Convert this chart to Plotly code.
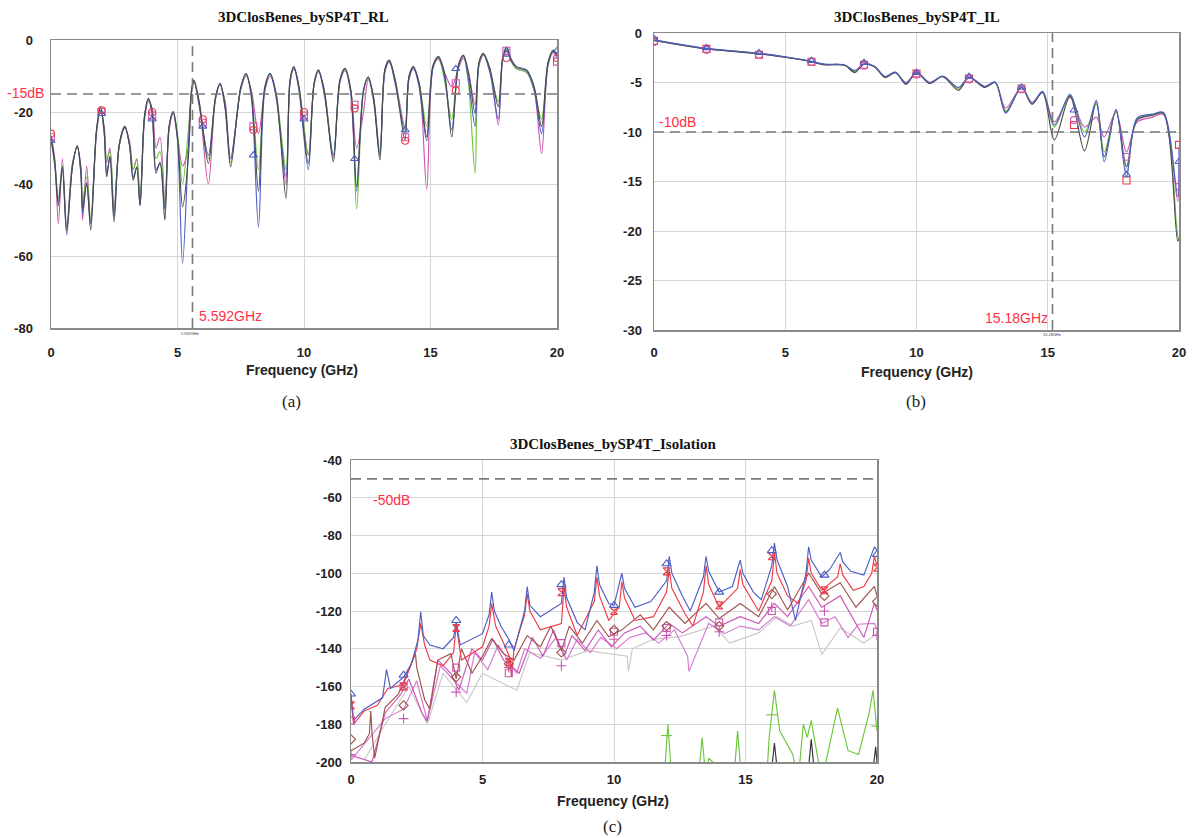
import plotly.graph_objects as go

W, H = 1192, 838

# ---------------- (a) Return loss data ----------------
rl_freq = [
    0.0, 0.15, 0.29, 0.45, 0.62, 0.85, 1.04, 1.18, 1.25, 1.41,
    1.57, 1.8, 1.96, 2.1, 2.2, 2.33, 2.49, 2.7, 2.92, 3.1,
    3.25, 3.39, 3.52, 3.7, 3.85, 4.0, 4.15, 4.31, 4.5, 4.67,
    4.83, 5.0, 5.2, 5.43, 5.55, 5.65, 5.85, 6.22, 6.5, 6.68,
    6.88, 7.1, 7.5, 7.71, 7.92, 8.2, 8.45, 8.66, 8.9, 9.29,
    9.45, 9.6, 9.8, 10.17, 10.4, 10.57, 10.8, 11.16, 11.42, 11.62,
    11.85, 12.08, 12.35, 12.54, 12.75, 13.0, 13.2, 13.37, 13.6, 13.99,
    14.15, 14.32, 14.55, 14.85, 15.1, 15.31, 15.55, 15.84, 16.1, 16.3,
    16.5, 16.76, 16.92, 17.09, 17.35, 17.68, 17.85, 18.01, 18.2, 18.4,
    18.8, 19.1, 19.39, 19.65, 19.86, 20.0]
rl_dark = [
    -26.9, -34, -46, -35.2, -53, -35, -29.4, -36, -47, -39.7,
    -52.8, -25, -18.5, -25, -38, -32.4, -50.5, -29, -24, -29,
    -38.9, -35.2, -45.8, -21, -16.2, -20, -36.1, -34.3, -50, -24,
    -19.9, -27, -46.3, -32.4, -14, -11.1, -17, -34.3, -16, -12,
    -18, -35.2, -13, -9.3, -15, -42, -13, -9.3, -15, -44,
    -11, -7.4, -13, -34.3, -12, -8.3, -14, -33.8, -11, -7.9,
    -14, -40.7, -14, -10.2, -16, -33.3, -8, -5.6, -11, -27.8,
    -10, -7.4, -12, -26.9, -7, -4.6, -9, -26.9, -7, -4.2,
    -9, -20.4, -6, -3.7, -8, -18.5, -5, -1.9, -5.5, -7.4,
    -8.3, -13, -24, -6, -2.8, -4.2]
rl_blue = [
    -27.5, -35, -45, -35.5, -54, -35, -29.6, -37, -48, -40,
    -51, -25, -18.8, -25, -37, -32.5, -49, -29, -24.2, -29,
    -38, -35.5, -46, -21, -16.5, -20.5, -37, -34, -47, -24,
    -20, -28, -62, -30, -14.5, -11.3, -18, -32, -16, -12.2,
    -19, -33, -13.5, -9.5, -16, -52, -14, -9.5, -16, -38,
    -11.5, -7.6, -14, -36, -12, -8.5, -15, -32, -11.5, -8,
    -15, -42, -14, -10.5, -17, -32, -8.5, -5.8, -12, -25,
    -10.5, -7.6, -13, -28, -7.5, -4.8, -10, -25, -7.5, -4.4,
    -11, -24, -6.5, -3.9, -9, -22, -5.5, -2.2, -6, -7.6,
    -8.6, -14, -26, -6.5, -3, -4.5]
rl_green = [
    -27, -34, -44, -35, -52, -35, -29.4, -37, -45, -38,
    -50, -25, -19, -26, -33, -31, -48, -29, -24, -29,
    -36, -33, -44, -21, -16.5, -21, -33, -31, -46, -24,
    -20, -26, -40, -25, -15, -11.5, -17, -33, -16.5, -12.3,
    -18, -34, -13.5, -9.6, -15, -36, -13.5, -9.5, -15, -36,
    -11.3, -7.7, -13, -32, -12.3, -8.6, -14, -32, -11.4, -8.2,
    -14, -47, -14.5, -10.5, -16, -32, -8.3, -5.9, -11, -26,
    -10.3, -7.7, -12, -24, -7.3, -5, -11, -22, -7.3, -4.5,
    -12, -37, -6.5, -4, -9, -17, -5.5, -2.5, -6, -8,
    -9, -14, -22, -6.3, -3.2, -4.5]
rl_magenta = [
    -26.5, -33, -51, -33, -52, -34, -30, -35, -50, -35,
    -51, -26, -19.5, -24, -34, -30, -47, -29.5, -24.5, -28,
    -36, -33, -46, -22, -17, -19, -30, -27, -45, -25,
    -20.5, -27, -35, -30, -15, -11.8, -17, -40, -16.5, -12.5,
    -17, -33, -13.8, -10, -14, -26, -14, -10, -15, -40,
    -11.8, -8, -13, -32, -12.5, -8.8, -14, -33, -11.8, -8.5,
    -14, -30, -20, -11, -16, -31, -8.8, -6.2, -11, -24,
    -11, -8, -12, -41.5, -7.8, -5.3, -9, -13, -8, -5,
    -9, -18, -7, -4.2, -8, -23.6, -5.8, -2.8, -6, -8,
    -9, -14, -31.5, -7, -3.5, -5]
rl_mark_freq = [0, 2, 4, 6, 8, 10, 12, 14, 16, 18, 20]
rl_mark_sq = [-27, -20, -21, -23, -24, -21, -18, -27, -12, -3, -6]
rl_mark_tri = [-28, -20.5, -22, -24, -32, -22, -33, -25, -8, -4, -3]
rl_mark_circ = [-26, -19.5, -20, -22, -25, -20, -19, -28, -14, -5, -5]
rl_limit = -15
rl_marker_freq = 5.592
rl_yticks = [0, -20, -40, -60, -80]
rl_yticktext = ["0", "-20", "-40", "-60", "-80"]

# ---------------- (b) Insertion loss data ----------------
il_freq = [
    0, 1, 2, 3, 4, 5, 5.6, 6.0, 6.5, 7.0,
    7.3, 7.65, 8.0, 8.4, 8.8, 9.2, 9.6, 10.0, 10.5, 11.0,
    11.6, 12.0, 12.6, 13.0, 13.4, 14.0, 14.4, 14.8, 15.25, 15.85,
    16.4, 16.85, 17.15, 17.6, 18.0, 18.4, 19.0, 19.4, 19.95, 20.0]
il_dark = [
    -0.75, -1.2, -1.6, -1.85, -2.1, -2.45, -2.7, -2.9, -3.2, -3.2,
    -3.3, -4.0, -3.15, -3.4, -4.5, -4.0, -5.1, -4.0, -5.1, -4.4,
    -5.8, -4.5, -5.5, -5.0, -8.0, -5.5, -7.2, -6.0, -10.8, -6.4,
    -11.9, -7.0, -12.5, -7.8, -13.5, -8.8, -8.3, -8.1, -21.0, -20.8]
il_blue = [
    -0.7, -1.15, -1.55, -1.8, -2.05, -2.4, -2.65, -2.85, -3.15, -3.15,
    -3.25, -3.8, -3.1, -3.35, -4.4, -3.95, -5.2, -3.95, -5.0, -4.35,
    -5.5, -4.45, -5.4, -4.95, -8.1, -5.45, -7.1, -5.9, -9.3, -6.2,
    -10.5, -6.8, -13.0, -7.7, -14.5, -8.6, -8.2, -8.0, -16.5, -11.5]
il_green = [
    -0.72, -1.18, -1.58, -1.82, -2.08, -2.42, -2.68, -2.88, -3.18, -3.18,
    -3.28, -3.9, -3.12, -3.38, -4.45, -3.98, -5.15, -3.98, -5.05, -4.38,
    -5.6, -4.48, -5.45, -4.98, -7.9, -5.48, -7.15, -5.95, -9.5, -6.3,
    -10.0, -7.2, -12.0, -7.9, -14.0, -8.7, -8.3, -8.1, -20.5, -20.8]
il_magenta = [
    -0.74, -1.2, -1.6, -1.84, -2.1, -2.44, -2.7, -2.9, -3.2, -3.2,
    -3.3, -3.85, -3.15, -3.4, -4.4, -4.0, -5.0, -4.0, -5.0, -4.4,
    -5.6, -4.5, -5.4, -5.0, -7.6, -5.5, -7.0, -6.0, -9.0, -6.5,
    -9.5, -8.5, -10.5, -8.0, -12.0, -9.0, -8.5, -8.2, -17.0, -13.0]
il_mark_freq = [0, 2, 4, 6, 8, 10, 12, 14, 16, 18, 20]
il_mark_sq = [-0.8, -1.6, -2.2, -2.9, -3.2, -4.1, -4.6, -5.6, -9.3, -14.9, -11.3]
il_mark_tri = [-0.6, -1.5, -2.0, -2.8, -3.0, -4.0, -4.4, -5.5, -7.8, -14.3, -13.0]
il_mark_circ = [-0.9, -1.7, -2.2, -2.9, -3.3, -4.2, -4.7, -5.7, -8.8, -12.5, -15.5]
il_limit = -10
il_marker_freq = 15.18
il_yticks = [0, -5, -10, -15, -20, -25, -30]
il_yticktext = ["0", "-5", "-10", "-15", "-20", "-25", "-30"]

# ---------------- (c) Isolation data ----------------
iso_blue_f = [0, 0.1, 0.5, 1.2, 1.35, 1.5, 2.0, 2.3, 2.55, 2.65,
              2.75, 3.0, 3.5, 3.9, 4.0, 4.15, 5.0, 5.25, 5.35, 5.45,
              5.7, 6.0, 6.2, 6.6, 6.7, 6.8, 7.2, 8.0, 8.1, 8.2,
              8.6, 8.9, 9.25, 9.35, 9.45, 9.8, 10.0, 10.3, 10.4, 10.8,
              11.4, 12.0, 12.1, 12.2, 12.6, 12.9, 13.4, 13.5, 13.6, 14.0,
              14.5, 14.8, 14.9, 15.3, 15.6, 16.0, 16.1, 16.2, 16.6, 16.9,
              17.3, 17.4, 17.5, 17.9, 18.2, 18.6, 18.7, 19.0, 19.5, 19.9, 20.0]
iso_blue = [-163.8, -178, -172, -166, -151, -161, -155, -148, -135, -120.4,
            -133, -138, -140, -134, -125.7, -138, -132, -122, -110, -120,
            -128, -135, -141, -120, -107, -117, -123, -116, -102, -113,
            -126, -130, -110, -96, -106, -116, -117, -100, -108, -118,
            -115, -104, -91, -100, -112, -120, -102, -91, -99, -110,
            -107, -93, -100, -110, -114, -96, -84, -93, -107, -125,
            -100, -86, -93, -102, -98, -89, -94, -99, -101, -86, -88]
iso_red_f = [0, 0.1, 0.5, 1.0, 1.4, 2.0, 2.5, 2.65, 2.8, 3.0,
             3.5, 3.9, 4.0, 4.2, 5.0, 5.25, 5.35, 5.5, 5.8, 6.05,
             6.1, 6.2, 6.6, 6.7, 6.8, 7.2, 8.0, 8.1, 8.2, 8.6,
             9.25, 9.35, 9.45, 9.8, 10.2, 10.3, 10.4, 10.8, 11.5, 12.0,
             12.1, 12.2, 12.7, 13.0, 13.4, 13.5, 13.6, 14.0, 14.7, 14.8,
             14.9, 15.5, 16.0, 16.1, 16.2, 16.6, 17.0, 17.3, 17.4, 17.5,
             17.9, 18.5, 18.6, 18.7, 19.1, 19.5, 19.8, 19.9, 20.0]
iso_red = [-167, -180, -173, -170, -161, -159, -140, -126.6, -138, -146,
           -149, -142, -127.5, -146, -139, -128, -116, -128, -137, -145,
           -155, -140, -122, -110.8, -120, -130, -126.6, -107, -118, -133,
           -115, -102, -112, -125, -118, -104.5, -113, -125, -123, -110,
           -98, -108, -121.5, -128, -110, -96, -106, -118, -108, -98,
           -106, -120, -104, -89, -100, -112, -116, -104, -92, -100,
           -109, -102, -95, -101, -109, -107, -100, -91, -96]
iso_brown_f = [0, 0.5, 0.7, 0.75, 0.8, 0.9, 1.3, 1.8, 2.2, 2.45,
               2.5, 2.8, 3.0, 3.3, 3.8, 4.0, 4.2, 4.6, 5.0, 5.35,
               5.8, 6.2, 6.7, 7.2, 7.6, 8.0, 8.3, 8.8, 9.35, 9.8,
               10.3, 11.0, 11.5, 12.1, 12.7, 13.5, 14.0, 14.8, 15.5, 16.1,
               16.6, 17.4, 17.9, 18.6, 19.2, 19.9, 20.0]
iso_brown = [-194, -190, -185, -173, -185, -198, -171, -164, -151, -142.6,
             -150, -167, -172, -146, -142.6, -156, -140, -153, -144, -134.6,
             -142.6, -146, -133, -139, -128, -141, -128, -137, -125, -133.7,
             -130, -122, -130, -118, -126.6, -116, -124, -116, -123, -107,
             -119.5, -100, -110.8, -105, -118, -107, -112]
iso_mag1_f = [0, 0.8, 1.3, 1.9, 2.2, 2.7, 2.9, 3.3, 3.8, 4.1,
              4.6, 5.0, 5.4, 5.8, 6.4, 6.9, 7.3, 7.7, 8.1, 8.4,
              8.9, 9.4, 9.9, 10.4, 11.0, 11.5, 12.1, 12.6, 13.5, 14.0,
              14.8, 15.5, 16.1, 16.6, 17.4, 17.9, 18.6, 19.2, 19.5, 19.9, 20.0]
iso_mag1 = [-196.5, -200, -174, -164, -156, -174, -178.5, -146, -153, -162,
            -140, -146, -135, -146, -153, -134, -144, -130, -144, -133,
            -141, -130, -139, -131.6, -128, -135.5, -126.6, -131.6, -123, -128,
            -123, -126.6, -116, -123, -107, -118, -112, -126.6, -134, -116, -119.5]
iso_mag2_f = [0, 1.3, 2.0, 2.5, 2.9, 3.4, 4.0, 4.4, 4.7, 5.2,
              5.6, 6.3, 6.6, 7.2, 7.8, 8.2, 8.6, 9.1, 9.5, 10.1,
              10.6, 11.2, 11.7, 12.3, 12.8, 12.85, 13.6, 14.2, 14.8, 15.5,
              16.1, 16.7, 17.4, 17.9, 18.4, 18.9, 19.3, 19.9, 20.0]
iso_mag2 = [-199, -177, -172, -157, -178, -149, -158, -163.6, -142, -151,
            -138, -153, -140, -145, -134, -146, -135, -142, -134, -140,
            -134, -131.6, -137, -130, -144, -152, -126.6, -132, -128, -130,
            -123, -128, -114, -126.6, -123, -134, -127, -126.6, -130]
iso_gray_f = [0.5, 1.3, 2.2, 2.9, 3.5, 4.4, 5.0, 6.3, 6.8, 8.0,
              9.0, 10.5, 10.55, 10.7, 11.5, 12.5, 13.8, 14.4, 15.5, 16.2,
              16.8, 17.5, 17.9, 18.6, 19.5, 20.0]
iso_gray = [-199, -180, -160, -180, -153, -168.5, -153, -162, -142, -146,
            -141, -144, -152, -140, -135, -133.6, -128, -137, -131.6, -123,
            -128, -125, -143, -129, -137, -132]
iso_green_f = [11.9, 12.05, 12.2, 13.2, 13.35, 13.5, 13.6, 14.55, 14.7, 14.85,
               15.8, 15.9, 16.1, 16.3, 16.8, 17.0, 17.2, 17.35, 17.5, 17.9,
               18.5, 18.9, 19.3, 19.7, 19.85, 20.0]
iso_green = [-210, -180, -210, -210, -187, -210, -198, -210, -183.5, -210,
             -210, -187, -162, -183.5, -196, -210, -180, -187, -178, -210,
             -171.5, -194, -196, -174, -162, -183.5]
iso_black_f = [15.95, 16.1, 16.25, None, 17.35, 17.5, 17.65, None, 19.8, 19.95, 20.0]
iso_black = [-210, -190, -210, None, -210, -188, -210, None, -210, -192, -200]
iso_mark_f = [0, 2, 4, 6, 8, 10, 12, 14, 16, 18, 20]
iso_mark_tri = [-164, -154, -125, -138, -106, -117, -95, -110, -88, -101, -90]
iso_mark_hg = [-170, -160, -129, -147, -110, -120, -99, -117, -91, -109, -97]
iso_mark_dia = [-188, -170, -155, -148, -142, -130, -128, -128, -111, -112, -115]
iso_mark_sq = [-178, -160, -150, -153, -137, -131, -129, -126, -120, -126, -131]
iso_mark_plus = [-196, -177, -163, -150, -149, -135, -133, -131, -118, -120, -133]
iso_green_mark_f = [12, 16, 20]
iso_green_mark = [-186, -175, -181]
iso_limit = -50
iso_yticks = [-40, -60, -80, -100, -120, -140, -160, -180, -200]
iso_yticktext = ["-40", "-60", "-80", "-100", "-120", "-140", "-160", "-180", "-200"]

freq_ticks = [0, 5, 10, 15, 20]

# ---------------- styling ----------------
C_DARK = "#4a4a4a"
C_BLUE = "#4c5fc4"
C_GREEN = "#6cc63a"
C_MAG = "#cc55b4"
C_RED = "#ee3a48"
C_BROWN = "#a0524c"
C_MAG2 = "#d37ad0"
C_GRAY = "#c9c9c9"
LABEL_RED = "#ff3048"

fig = go.Figure()


def line(x, y, color, xa, ya, width=1.15, shape="spline"):
    fig.add_trace(go.Scatter(x=x, y=y, mode="lines", xaxis=xa, yaxis=ya,
                             line=dict(color=color, width=width, shape=shape,
                                       smoothing=0.9 if shape == "spline" else None),
                             showlegend=False, hoverinfo="skip", connectgaps=False))


def marks(x, y, color, symbol, xa, ya, size=7):
    fig.add_trace(go.Scatter(x=x, y=y, mode="markers", xaxis=xa, yaxis=ya,
                             marker=dict(symbol=symbol, size=size, color=color,
                                         line=dict(color=color, width=1.1)),
                             showlegend=False, hoverinfo="skip"))


# (a)
line(rl_freq, rl_magenta, C_MAG, "x", "y")
line(rl_freq, rl_green, C_GREEN, "x", "y")
line(rl_freq, rl_blue, C_BLUE, "x", "y")
line(rl_freq, rl_dark, C_DARK, "x", "y")
marks(rl_mark_freq, rl_mark_sq, C_MAG, "square-open", "x", "y")
marks(rl_mark_freq, rl_mark_circ, C_RED, "circle-open", "x", "y")
marks(rl_mark_freq, rl_mark_tri, C_BLUE, "triangle-up-open", "x", "y")

# (b)
line(il_freq, il_magenta, C_MAG, "x2", "y2")
line(il_freq, il_green, C_GREEN, "x2", "y2")
line(il_freq, il_dark, C_DARK, "x2", "y2")
line(il_freq, il_blue, C_BLUE, "x2", "y2")
marks(il_mark_freq, il_mark_sq, C_RED, "square-open", "x2", "y2")
marks(il_mark_freq, il_mark_circ, C_MAG, "circle-open", "x2", "y2")
marks(il_mark_freq, il_mark_tri, C_BLUE, "triangle-up-open", "x2", "y2")

# (c)
line(iso_green_f, iso_green, C_GREEN, "x3", "y3", shape="linear")
line(iso_black_f, iso_black, "#333333", "x3", "y3", shape="linear")
line(iso_gray_f, iso_gray, C_GRAY, "x3", "y3", shape="linear")
line(iso_mag2_f, iso_mag2, C_MAG2, "x3", "y3", shape="linear")
line(iso_mag1_f, iso_mag1, C_MAG, "x3", "y3", shape="linear")
line(iso_brown_f, iso_brown, C_BROWN, "x3", "y3", shape="linear")
line(iso_red_f, iso_red, C_RED, "x3", "y3", shape="linear")
line(iso_blue_f, iso_blue, C_BLUE, "x3", "y3", shape="linear")
marks(iso_mark_f, iso_mark_plus, C_MAG, "cross-thin-open", "x3", "y3")
marks(iso_mark_f, iso_mark_sq, C_MAG, "square-open", "x3", "y3")
marks(iso_mark_f, iso_mark_dia, C_BROWN, "diamond-open", "x3", "y3")
marks(iso_mark_f, iso_mark_hg, C_RED, "hourglass-open", "x3", "y3")
marks(iso_mark_f, iso_mark_tri, C_BLUE, "triangle-up-open", "x3", "y3", size=8)
marks(iso_green_mark_f, iso_green_mark, C_GREEN, "line-ew-open", "x3", "y3", size=8)


def px(x):
    return x / W


def py(y):
    return 1 - y / H


tickfont = dict(family="Liberation Sans, Arial, sans-serif", size=13, color="#222222", weight="bold")
common = dict(showline=True, linecolor="#8a8a8a", linewidth=1.5, mirror=True,
              showgrid=True, gridcolor="#d6d6d6", gridwidth=1, zeroline=False,
              ticks="", tickfont=tickfont, fixedrange=True, automargin=False)

fig.update_layout(
    width=W, height=H, margin=dict(l=0, r=0, t=0, b=0, pad=0),
    paper_bgcolor="white", plot_bgcolor="white", showlegend=False,
    xaxis=dict(common, domain=[px(51), px(557)], range=[0, 20], tickvals=freq_ticks,
               anchor="y", ticklabelstandoff=12),
    yaxis=dict(common, domain=[py(328), py(40)], range=[-80, 0], tickvals=rl_yticks,
               ticktext=rl_yticktext, anchor="x", ticklabelstandoff=14),
    xaxis2=dict(common, domain=[px(654), px(1179)], range=[0, 20], tickvals=freq_ticks,
                anchor="y2", ticklabelstandoff=10),
    yaxis2=dict(common, domain=[py(330), py(33)], range=[-30, 0],
                tickvals=il_yticks, ticktext=il_yticktext, anchor="x2", ticklabelstandoff=8),
    xaxis3=dict(common, domain=[px(351), px(877)], range=[0, 20], tickvals=freq_ticks,
                anchor="y3", ticklabelstandoff=5),
    yaxis3=dict(common, domain=[py(762), py(460)], range=[-200, -40],
                tickvals=iso_yticks, ticktext=iso_yticktext, anchor="x3",
                ticklabelstandoff=5),
)

dash = dict(color="#7a7a7a", width=1.6, dash="10px,6px")
# horizontal limit lines
fig.add_shape(type="line", xref="x", yref="y", x0=0, x1=20, y0=rl_limit, y1=rl_limit, line=dash)
fig.add_shape(type="line", xref="x2", yref="y2", x0=0, x1=20, y0=il_limit, y1=il_limit, line=dash)
fig.add_shape(type="line", xref="x3", yref="y3", x0=0, x1=20, y0=iso_limit, y1=iso_limit, line=dash)
# vertical frequency markers
fig.add_shape(type="line", xref="x", yref="y", x0=rl_marker_freq, x1=rl_marker_freq,
              y0=-80, y1=0, line=dash)
fig.add_shape(type="line", xref="x2", yref="y2", x0=il_marker_freq, x1=il_marker_freq,
              y0=-30, y1=0, line=dash)

sans = "Liberation Sans, Arial, sans-serif"
serif = "Liberation Serif, Times New Roman, serif"


def ann(text, x, y, size=12, color="#222222", family=sans, xanchor="center", weight="normal"):
    fig.add_annotation(text=text, x=px(x), y=py(y), xref="paper", yref="paper",
                       xanchor=xanchor, yanchor="middle", showarrow=False,
                       font=dict(family=family, size=size, color=color, weight=weight))


# titles
ann("3DClosBenes_bySP4T_RL", 303, 17, size=15, family=serif, weight="bold", color="#111111")
ann("3DClosBenes_bySP4T_IL", 917, 17, size=15, family=serif, weight="bold", color="#111111")
ann("3DClosBenes_bySP4T_Isolation", 613, 444, size=15, family=serif, weight="bold", color="#111111")

# axis titles
ann("Frequency (GHz)", 302, 370, size=14, weight="bold")
ann("Frequency (GHz)", 917, 372, size=14, weight="bold")
ann("Frequency (GHz)", 613, 801, size=14, weight="bold")

# captions
ann("(a)", 291, 401, size=17, family=serif)
ann("(b)", 916, 401, size=17, family=serif)
ann("(c)", 612, 826, size=17, family=serif)

# limit / marker labels
ann("-15dB", 5, 93, size=14, color=LABEL_RED, xanchor="left")
ann("5.592GHz", 197, 316, size=14, color=LABEL_RED, xanchor="left")
ann("5.592GHz", 190, 334, size=4, color="#333333")
ann("-10dB", 657, 122, size=14, color=LABEL_RED, xanchor="left")
ann("15.18GHz", 1050, 318, size=14, color=LABEL_RED, xanchor="right")
ann("15.18GHz", 1052, 335, size=4, color="#333333")
ann("-50dB", 371, 500, size=14, color=LABEL_RED, xanchor="left")

fig.write_html("out.html", config={"displayModeBar": False, "staticPlot": True},
               post_script="document.body.style.margin='0';document.body.style.overflow='hidden';")
